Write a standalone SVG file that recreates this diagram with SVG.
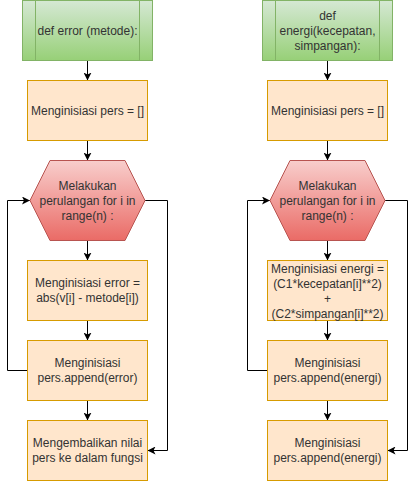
<svg xmlns="http://www.w3.org/2000/svg" width="416" height="481" viewBox="0 0 416 481">
<defs>
<linearGradient id="gGreen" x1="0" y1="0" x2="0" y2="1"><stop offset="0" stop-color="#d5e8d4"/><stop offset="1" stop-color="#97d077"/></linearGradient>
<linearGradient id="gRed" x1="0" y1="0" x2="0" y2="1"><stop offset="0" stop-color="#f8cecc"/><stop offset="1" stop-color="#ea6b66"/></linearGradient>
<marker id="arr" viewBox="0 0 8 8" refX="8" refY="4" markerWidth="8" markerHeight="8" markerUnits="userSpaceOnUse" orient="auto">
<path d="M8,4 L0,0 L2,4 L0,8 Z" fill="#000"/>
</marker>
</defs>
<style>
.sub{fill:url(#gGreen);stroke:#82b366;stroke-width:1}
.sub line{stroke:#82b366}
.box{fill:#ffe6cc;stroke:#d79b00;stroke-width:1}
.hex{fill:url(#gRed);stroke:#b85450;stroke-width:1}
text{font-family:"Liberation Sans",Arial,sans-serif;font-size:12px;fill:#333333;text-anchor:middle}
.edge{fill:none;stroke:#000;stroke-width:1;marker-end:url(#arr)}
</style>
<g id="connectors">
<path class="edge" d="M87.5,60.5 L87.5,80.5"/>
<path class="edge" d="M87.5,140.5 L87.5,160.5"/>
<path class="edge" d="M87.5,240.5 L87.5,260.5"/>
<path class="edge" d="M87.5,320.5 L87.5,340.5"/>
<path class="edge" d="M87.5,400.5 L87.5,420.5"/>
<path class="edge" d="M27.5,370.5 L7.5,370.5 L7.5,200.5 L30,200.5"/>
<path class="edge" d="M145,200.5 L167.5,200.5 L167.5,450.5 L147.5,450.5"/>
<path class="edge" d="M327.5,60.5 L327.5,80.5"/>
<path class="edge" d="M327.5,140.5 L327.5,160.5"/>
<path class="edge" d="M327.5,240.5 L327.5,260.5"/>
<path class="edge" d="M327.5,320.5 L327.5,340.5"/>
<path class="edge" d="M327.5,400.5 L327.5,420.5"/>
<path class="edge" d="M267.5,370.5 L247.5,370.5 L247.5,200.5 L270,200.5"/>
<path class="edge" d="M385,200.5 L407.5,200.5 L407.5,450.5 L387.5,450.5"/>
</g>
<g id="def-error">
<g class="sub"><rect x="22.5" y="0.5" width="130" height="60"/><line x1="35.5" y1="0.5" x2="35.5" y2="60.5"/><line x1="139.5" y1="0.5" x2="139.5" y2="60.5"/></g>
<text x="87.5" y="35">def error (metode):</text>
</g>
<g id="init-pers-1">
<rect class="box" x="27.5" y="80.5" width="120" height="60"/>
<text x="87.5" y="115">Menginisiasi pers = []</text>
</g>
<g id="loop-1">
<polygon class="hex" points="30,200.5 50,160.5 125,160.5 145,200.5 125,240.5 50,240.5"/>
<text x="87.5" y="189.5">Melakukan</text>
<text x="87.5" y="204.5">perulangan for i in</text>
<text x="87.5" y="219.5">range(n) :</text>
</g>
<g id="init-error">
<rect class="box" x="27.5" y="260.5" width="120" height="60"/>
<text x="87.5" y="287">Menginisiasi error =</text>
<text x="87.5" y="302">abs(v[i] - metode[i])</text>
</g>
<g id="append-error">
<rect class="box" x="27.5" y="340.5" width="120" height="60"/>
<text x="87.5" y="367">Menginisiasi</text>
<text x="87.5" y="382">pers.append(error)</text>
</g>
<g id="return-1">
<rect class="box" x="27.5" y="420.5" width="120" height="60"/>
<text x="87.5" y="447">Mengembalikan nilai</text>
<text x="87.5" y="462">pers ke dalam fungsi</text>
</g>
<g id="def-energi">
<g class="sub"><rect x="262.5" y="0.5" width="130" height="60"/><line x1="275.5" y1="0.5" x2="275.5" y2="60.5"/><line x1="379.5" y1="0.5" x2="379.5" y2="60.5"/></g>
<text x="327.5" y="20">def</text>
<text x="327.5" y="35">energi(kecepatan,</text>
<text x="327.5" y="50">simpangan):</text>
</g>
<g id="init-pers-2">
<rect class="box" x="267.5" y="80.5" width="120" height="60"/>
<text x="327.5" y="115">Menginisiasi pers = []</text>
</g>
<g id="loop-2">
<polygon class="hex" points="270,200.5 290,160.5 365,160.5 385,200.5 365,240.5 290,240.5"/>
<text x="327.5" y="189.5">Melakukan</text>
<text x="327.5" y="204.5">perulangan for i in</text>
<text x="327.5" y="219.5">range(n) :</text>
</g>
<g id="init-energi">
<rect class="box" x="267.5" y="260.5" width="120" height="60"/>
<text x="327.5" y="272.5">Menginisiasi energi =</text>
<text x="327.5" y="287.5">(C1*kecepatan[i]**2)</text>
<text x="327.5" y="302.5">+</text>
<text x="327.5" y="317.5">(C2*simpangan[i]**2)</text>
</g>
<g id="append-energi">
<rect class="box" x="267.5" y="340.5" width="120" height="60"/>
<text x="327.5" y="367">Menginisiasi</text>
<text x="327.5" y="382">pers.append(energi)</text>
</g>
<g id="append-energi-2">
<rect class="box" x="267.5" y="420.5" width="120" height="60"/>
<text x="327.5" y="447">Menginisiasi</text>
<text x="327.5" y="462">pers.append(energi)</text>
</g>
</svg>
